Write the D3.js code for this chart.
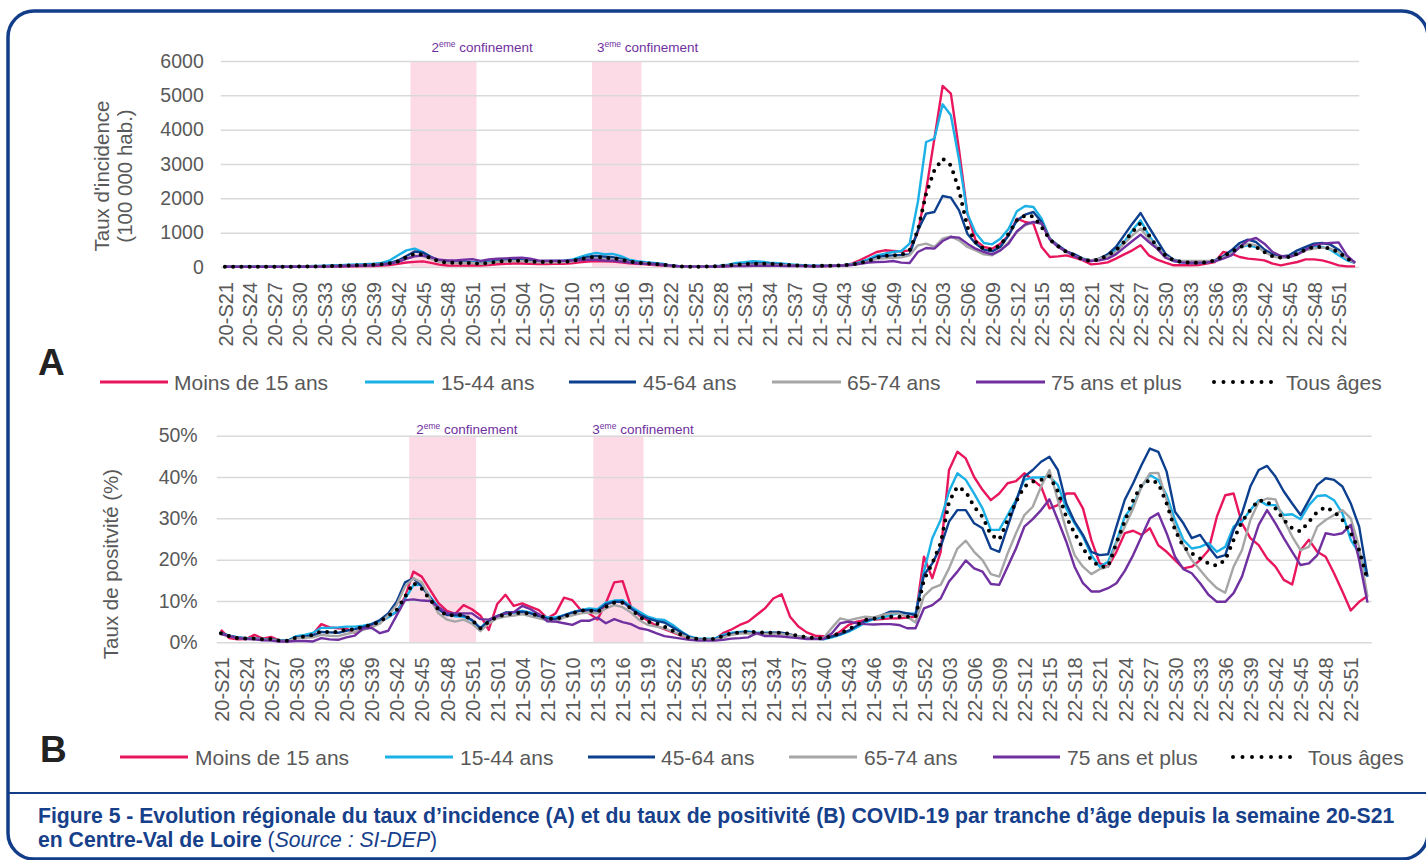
<!DOCTYPE html>
<meta charset="utf-8">
<style>
    body {
        margin: 0;
        background: #fff;
    }

    svg {
        font-family: "Liberation Sans", Arial, sans-serif;
    }

    .grid line {
        stroke: #d9d9d9;
        stroke-width: 1.5;
    }

    .tick text {
        fill: #595959;
    }
</style>
<body>
<script src="https://cdn.jsdelivr.net/npm/d3@7"></script>
<script>
    // weeks: [year, first week, last week]
    const yearWeeks = [["20", 21, 53], ["21", 1, 52], ["22", 1, 52], ["23", 1, 1]];

    const seriesNames = ["Moins de 15 ans", "15-44 ans", "45-64 ans", "65-74 ans", "75 ans et plus", "Tous âges"];
    const seriesColors = ["#e8175d", "#1bb1e7", "#0d3f8f", "#a6a6a6", "#7030a0", "#000000"];

    // A - taux d'incidence (pour 100 000 hab.)
    const incMoins15 = [
        5, 4, 3, 3, 3, 3, 3, 4, 5, 6, 7, 8, 10, 12, 15, 18, 22, 26, 30, 40,
        60, 90, 130, 150, 165, 120, 70, 45, 40, 40, 45, 40, 55, 80, 95, 100, 100, 90, 85, 85, 90,
        95, 110, 140, 160, 175, 165, 160, 140, 110, 90, 75, 60, 45, 28, 15, 7, 6, 6, 8,
        18, 30, 45, 60, 75, 80, 75, 65, 50, 40, 32, 25, 25, 30, 35, 50, 100, 200, 320,
        437, 486, 470, 450, 486, 1020, 2233, 3738, 5273, 5049, 3399, 1554, 777, 583, 534,
        680, 922, 1408, 1311, 1262, 583, 291, 311, 340, 272, 194, 78, 97, 136, 243,
        369, 486, 631, 340, 214, 126, 49, 49, 49, 60, 97, 146, 437, 388, 291,
        243, 223, 194, 97, 49, 97, 146, 223, 223, 194, 126, 49, 19, 19
    ];
    const inc15_44 = [
        14, 11, 9, 8, 8, 9, 10, 12, 15, 18, 22, 28, 36, 45, 55, 65, 75, 85, 95, 117,
        195, 340, 485, 534, 437, 290, 195, 175, 165, 160, 150, 125, 160, 200, 215, 220, 215, 190, 165, 170, 175,
        185, 210, 290, 360, 412, 372, 382, 314, 216, 167, 137, 118, 98, 49, 25, 12, 10, 12, 18,
        40, 69, 118, 137, 167, 157, 127, 108, 90, 70, 55, 40, 35, 40, 45, 60, 85, 140, 230,
        340, 388, 437, 466, 680, 1893, 3641, 3738, 4738, 4418, 3107, 1554, 990, 699, 660,
        825, 1117, 1622, 1777, 1748, 1408, 825, 602, 437, 340, 214, 175, 243, 340, 505,
        728, 1068, 1359, 922, 583, 311, 175, 126, 117, 117, 136, 175, 291, 408, 583,
        631, 583, 486, 340, 272, 291, 388, 534, 602, 583, 505, 340, 194, 117
    ];
    const inc45_64 = [
        10, 8, 7, 6, 6, 6, 7, 8, 10, 12, 15, 18, 25, 30, 38, 45, 52, 60, 68, 85,
        120, 190, 320, 450, 420, 290, 180, 140, 130, 130, 125, 100, 125, 165, 180, 190, 190, 170, 150, 150, 155,
        160, 180, 235, 290, 320, 300, 285, 240, 175, 135, 115, 95, 75, 45, 22, 12, 10, 10, 15,
        30, 55, 70, 85, 100, 100, 95, 80, 60, 50, 40, 30, 30, 38, 40, 50, 70, 120, 180,
        291, 320, 340, 350, 369, 1068, 1554, 1602, 2068, 2020, 1651, 971, 680, 505, 456,
        583, 922, 1359, 1524, 1602, 1311, 825, 631, 456, 369, 243, 194, 243, 369, 583,
        922, 1262, 1573, 1165, 777, 388, 214, 165, 146, 146, 146, 194, 311, 486, 699,
        796, 728, 505, 369, 311, 340, 486, 583, 680, 699, 651, 505, 243, 136
    ];
    const inc65_74 = [
        8, 6, 5, 4, 4, 4, 5, 6, 7, 9, 11, 13, 17, 22, 28, 35, 42, 50, 58, 72,
        100, 150, 250, 330, 320, 230, 150, 120, 115, 120, 118, 95, 118, 150, 165, 170, 170, 150, 135, 135, 140,
        145, 160, 200, 235, 250, 235, 220, 190, 150, 120, 100, 80, 60, 35, 18, 9, 8, 8, 10,
        20, 35, 50, 60, 70, 72, 70, 60, 50, 40, 32, 25, 25, 35, 40, 50, 65, 100, 160,
        243, 250, 270, 280, 340, 631, 680, 583, 825, 893, 777, 583, 486, 369, 340,
        486, 728, 1020, 1214, 1311, 1262, 825, 583, 437, 320, 223, 194, 243, 311, 437,
        680, 922, 1117, 825, 583, 311, 194, 175, 175, 175, 175, 175, 272, 388, 563,
        680, 631, 437, 311, 262, 291, 369, 486, 534, 563, 534, 437, 243, 117
    ];
    const inc75plus = [
        8, 6, 5, 4, 4, 4, 4, 5, 6, 7, 8, 10, 14, 18, 24, 30, 36, 44, 52, 66,
        100, 150, 240, 310, 330, 280, 210, 190, 190, 210, 230, 180, 220, 240, 250, 260, 270, 240, 190, 180, 180,
        180, 190, 200, 210, 210, 190, 180, 160, 130, 110, 90, 80, 60, 40, 25, 15, 12, 10, 10,
        14, 20, 25, 30, 35, 38, 38, 35, 30, 28, 25, 22, 22, 28, 35, 45, 60, 90, 130,
        146, 150, 175, 126, 117, 437, 553, 534, 757, 874, 854, 680, 534, 437, 369,
        486, 680, 1039, 1243, 1311, 1262, 796, 583, 456, 311, 214, 175, 194, 243, 369,
        563, 757, 942, 728, 534, 272, 175, 136, 126, 126, 136, 165, 243, 340, 583,
        777, 845, 680, 437, 320, 291, 369, 505, 631, 680, 699, 718, 340, 117
    ];
    const incTous = [
        10, 8, 7, 6, 6, 6, 7, 8, 10, 12, 15, 18, 24, 30, 38, 45, 52, 58, 65, 80,
        110, 165, 285, 390, 360, 250, 160, 125, 118, 120, 115, 95, 120, 160, 175, 185, 185, 165, 145, 150, 150,
        150, 170, 225, 270, 294, 274, 255, 216, 160, 127, 108, 88, 69, 40, 20, 10, 10, 10, 15,
        30, 55, 70, 80, 98, 98, 95, 78, 59, 49, 39, 29, 29, 39, 39, 49, 69, 118, 176,
        272, 320, 340, 350, 486, 1068, 2136, 2816, 3156, 2962, 2233, 1165, 728, 524, 505,
        631, 971, 1359, 1505, 1476, 1165, 796, 602, 437, 340, 214, 175, 223, 340, 486,
        728, 1020, 1282, 922, 583, 340, 194, 146, 126, 126, 136, 194, 311, 437, 583,
        631, 583, 437, 311, 272, 291, 388, 505, 583, 583, 534, 437, 243, 136
    ];

    // B - taux de positivité (%)
    const posMoins15 = [
        3.0, 1.0, 0.7, 0.8, 1.8, 0.9, 1.3, 0.4, 0.3, 1.0, 1.5, 2.0, 4.4, 3.6, 3.4, 3.3, 2.3, 3.5, 4.0, 4.8,
        6.2, 7.3, 11.0, 17.1, 15.9, 12.7, 9.5, 7.6, 6.9, 9.0, 8.0, 6.5, 3.0, 9.2, 11.5, 8.8, 9.4, 8.6, 7.8, 5.8, 7.0,
        10.8, 10.2, 7.8, 7.0, 5.5, 9.5, 14.5, 14.8, 8.6, 6.5, 5.3, 4.0, 3.2, 2.4, 1.6, 1.0, 0.8, 0.7, 0.7,
        2.2, 3.1, 4.2, 5.0, 6.6, 8.2, 10.6, 11.6, 6.2, 3.8, 2.4, 1.6, 1.5, 1.4, 2.6, 4.2, 5.0, 5.4, 5.5, 5.6, 5.8, 5.8, 6.0, 6.2,
        20.7, 15.5, 21.9, 41.7, 46.1, 44.5, 40.0, 36.9, 34.4, 36.0, 38.5, 39.0, 40.9, 39.3, 37.7,
        32.4, 33.2, 36.0, 36.0, 32.4, 24.8, 19.1, 18.3, 21.9, 26.4,
        27.0, 26.0, 27.6, 23.5, 21.9, 19.9, 17.9, 18.3, 19.9, 22.3, 30.4, 35.6, 36.0, 28.8, 25.2,
        23.5, 20.3, 18.3, 15.1, 14.0, 22.3, 24.8, 21.9, 20.7, 16.7, 12.3, 7.7, 9.8, 11.2
    ];
    const pos15_44 = [
        2.2, 1.6, 1.2, 1.0, 0.9, 0.8, 0.7, 0.5, 0.4, 1.5, 1.8, 2.3, 3.5, 3.5, 3.6, 3.8, 3.8, 4.0, 4.4, 5.0,
        6.0, 7.5, 10.5, 13.8, 14.0, 11.0, 8.5, 6.8, 6.3, 6.2, 5.3, 3.5, 5.3, 6.4, 6.9, 7.2, 7.6, 7.2, 6.6, 6.0, 6.0,
        6.6, 7.3, 7.8, 8.2, 8.0, 9.6, 10.1, 10.2, 8.6, 7.4, 6.2, 5.6, 5.4, 4.2, 2.6, 1.4, 0.9, 0.9, 0.9,
        1.8, 2.3, 2.5, 2.6, 2.3, 2.3, 2.3, 2.2, 1.8, 1.4, 1.0, 0.9, 0.7, 1.2, 1.8, 2.6, 3.6, 4.8, 5.6, 6.0, 6.6, 7.0, 7.0, 6.9,
        17.1, 25.2, 29.6, 36.5, 40.9, 39.3, 36.0, 32.4, 27.2, 27.2, 30.8, 34.4, 39.3, 39.9, 39.9,
        40.1, 38.1, 32.4, 28.8, 25.6, 21.1, 18.3, 19.5, 24.4, 30.4,
        33.2, 37.7, 40.5, 39.3, 35.6, 29.6, 24.8, 22.7, 23.1, 24.0, 21.9, 23.1, 28.0, 29.2, 32.0,
        34.4, 33.2, 33.2, 30.8, 31.0, 29.8, 33.2, 35.4, 35.6, 34.4, 31.2, 24.8, 21.5, 15.9
    ];
    const pos45_64 = [
        2.2, 1.6, 1.2, 1.0, 0.9, 0.7, 0.7, 0.4, 0.4, 1.2, 1.4, 1.6, 2.5, 2.4, 2.3, 2.8, 3.2, 3.7, 4.4, 5.4,
        7.0, 9.8, 14.5, 15.5, 13.5, 10.8, 8.0, 6.6, 6.6, 6.5, 5.4, 3.3, 5.2, 6.3, 7.2, 7.3, 7.4, 7.0, 6.3, 5.7, 5.6,
        6.5, 7.2, 7.7, 7.8, 7.6, 9.2, 9.8, 9.8, 8.2, 6.8, 5.8, 5.2, 4.8, 3.6, 2.4, 1.2, 0.8, 0.7, 0.7,
        1.4, 2.0, 2.3, 2.4, 2.2, 2.2, 2.3, 2.3, 1.9, 1.4, 1.1, 0.9, 0.9, 1.4, 2.0, 2.8, 4.0, 5.2, 5.8, 6.6, 7.4, 7.4, 7.0, 6.6,
        16.3, 19.1, 23.1, 29.2, 32.0, 32.0, 28.8, 27.6, 22.7, 21.9, 28.0, 34.0, 40.1, 41.7, 43.7,
        44.9, 41.7, 33.6, 29.2, 26.0, 21.9, 21.1, 21.3, 28.0, 34.5,
        38.5, 42.9, 46.9, 46.1, 41.3, 31.6, 28.8, 25.2, 26.0, 23.1, 20.5, 21.1, 27.2, 31.2, 37.7,
        41.7, 42.7, 40.1, 36.5, 33.6, 30.8, 34.4, 38.1, 39.7, 39.3, 37.7, 33.6, 28.0, 15.9
    ];
    const pos65_74 = [
        2.0, 1.5, 1.0, 0.9, 0.8, 0.6, 0.6, 0.3, 0.3, 1.0, 1.1, 1.2, 1.8, 1.6, 1.5, 2.0, 2.5, 3.0, 3.6, 4.5,
        6.5, 9.0, 13.5, 15.5, 14.5, 10.5, 7.0, 5.5, 5.0, 5.5, 4.5, 2.7, 4.5, 5.8, 6.2, 6.5, 6.8, 6.3, 5.8, 5.3, 5.0,
        6.0, 6.5, 7.0, 7.2, 7.0, 8.2, 9.0, 8.5, 7.2, 5.4, 4.2, 3.8, 3.4, 2.6, 1.8, 1.0, 0.7, 0.6, 0.6,
        1.2, 1.8, 2.1, 2.2, 2.0, 2.0, 2.1, 2.0, 1.8, 1.4, 1.0, 0.9, 1.0, 3.5, 5.8, 5.3, 5.8, 6.2, 6.0, 6.6, 7.0, 7.0, 6.2, 4.8,
        11.2, 13.1, 13.9, 17.9, 22.7, 24.6, 21.9, 19.9, 16.5, 15.9, 21.5, 26.4, 30.8, 32.8, 37.7,
        41.7, 34.4, 27.2, 21.1, 18.3, 16.5, 17.7, 18.3, 24.0, 28.0,
        32.4, 37.7, 40.9, 41.0, 34.4, 28.0, 23.5, 19.9, 17.5, 15.1, 13.1, 12.0, 18.3, 22.3, 29.6,
        34.0, 34.8, 34.6, 29.6, 25.6, 22.3, 23.1, 28.0, 29.6, 30.8, 32.0, 30.0, 23.1, 11.0
    ];
    const pos75plus = [
        2.0, 1.5, 1.0, 0.8, 0.7, 0.5, 0.4, 0.2, 0.2, 0.3, 0.3, 0.2, 1.0, 0.7, 0.6, 1.2, 1.6, 3.3, 3.5, 2.2,
        2.8, 6.5, 10.2, 10.4, 10.1, 10.0, 8.5, 7.1, 7.0, 7.0, 7.0, 5.6, 5.5, 6.3, 7.0, 7.3, 8.8, 8.0, 6.8, 5.1, 5.0,
        4.6, 4.2, 5.2, 5.2, 6.0, 4.6, 5.6, 4.9, 4.4, 3.4, 3.0, 2.2, 1.5, 1.2, 0.9, 0.6, 0.4, 0.4, 0.4,
        0.6, 0.9, 1.0, 1.2, 2.2, 1.5, 1.5, 1.4, 1.2, 1.0, 0.8, 0.8, 0.8, 2.2, 4.6, 5.0, 4.6, 4.4, 4.3, 4.4, 4.4, 4.2, 3.4, 3.4,
        8.2, 9.0, 10.6, 14.7, 17.1, 19.8, 17.9, 17.1, 14.1, 13.9, 18.3, 22.7, 28.0, 29.8, 32.0,
        34.6, 29.6, 24.4, 18.3, 14.3, 12.3, 12.3, 13.1, 14.3, 17.3,
        21.1, 25.6, 30.0, 31.2, 26.4, 20.7, 17.7, 16.7, 14.3, 11.5, 9.8, 9.8, 11.9, 15.9, 22.3,
        28.4, 32.0, 28.8, 25.2, 21.9, 18.7, 19.1, 21.1, 26.4, 26.0, 26.4, 28.4, 19.9, 9.6
    ];
    const posTous = [
        2.2, 1.5, 1.0, 0.9, 0.9, 0.7, 0.8, 0.4, 0.4, 1.2, 1.4, 1.8, 2.7, 2.4, 2.5, 3.1, 3.1, 3.8, 4.2, 5.0,
        6.4, 7.8, 11.0, 14.4, 13.0, 10.3, 7.9, 6.5, 6.6, 6.6, 5.4, 3.4, 5.0, 6.2, 6.7, 7.0, 7.2, 6.9, 6.5, 5.8, 5.6,
        6.2, 7.0, 7.7, 7.7, 7.4, 8.6, 9.6, 9.6, 8.2, 6.2, 5.0, 4.6, 3.8, 2.8, 1.8, 1.0, 0.8, 0.8, 0.8,
        1.5, 2.2, 2.4, 2.6, 2.4, 2.4, 2.3, 2.3, 2.0, 1.5, 1.2, 1.0, 1.0, 1.5, 2.2, 3.1, 4.2, 5.4, 5.7, 6.0, 6.2, 6.2, 6.2, 6.2,
        15.1, 19.1, 24.0, 34.0, 37.7, 36.5, 32.8, 30.4, 26.0, 24.8, 29.6, 34.0, 37.7, 38.9, 39.3,
        40.2, 36.5, 30.4, 26.4, 22.7, 19.9, 18.3, 18.3, 24.0, 29.4,
        34.4, 38.1, 39.3, 38.5, 33.6, 27.2, 23.1, 21.5, 20.3, 19.1, 18.5, 19.9, 24.8, 29.2, 32.0,
        34.4, 34.0, 32.4, 29.6, 27.6, 26.8, 29.2, 31.6, 32.7, 31.6, 29.6, 26.4, 22.3, 15.1
    ];

    // confinements: first and last week covered
    const confinements = [
        {label: "2", from: "20-S44", to: "20-S51"},
        {label: "3", from: "21-S13", to: "21-S18"}
    ];

    const weeks = [];
    yearWeeks.forEach(([yy, first, last]) => {
        for (let w = first; w <= last; w++) weeks.push(yy + "-S" + String(w).padStart(2, "0"));
    });
    const tickWeeks = weeks.filter((d, i) => i % 3 === 0 && i < 136);

    const svg = d3.select("body").append("svg")
        .attr("width", 1426)
        .attr("height", 860);

    // outer frame
    svg.append("rect")
        .attr("x", 8).attr("y", 11)
        .attr("width", 1420).attr("height", 848)
        .attr("rx", 26)
        .style("fill", "none")
        .style("stroke", "#123d88")
        .style("stroke-width", 3.5);

    svg.append("line")
        .attr("x1", 8).attr("x2", 1428)
        .attr("y1", 793).attr("y2", 793)
        .style("stroke", "#123d88")
        .style("stroke-width", 1.8);

    function drawPanel(p) {
        const g = svg.append("g");
        const x = d3.scalePoint().domain(weeks).range([p.left, p.right]).padding(0.5);
        const step = x.step();
        const y = d3.scaleLinear().domain([0, p.yMax]).range([p.bottom, p.top]);

        // pink bands
        g.selectAll(".band")
            .data(confinements)
            .enter().append("rect")
            .attr("class", "band")
            .attr("x", d => x(d.from) - step / 2)
            .attr("width", d => x(d.to) - x(d.from) + step)
            .attr("y", p.top)
            .attr("height", p.bottom - p.top)
            .style("fill", "#fcdbe7");

        // band labels
        const lab = g.selectAll(".conf-label")
            .data(confinements)
            .enter().append("text")
            .attr("class", "conf-label")
            .attr("x", (d, i) => x(d.from) - step / 2 + p.labelDx[i])
            .attr("y", p.labelY)
            .style("fill", "#7030a0")
            .style("font-size", "13.5px");
        lab.append("tspan").text(d => d.label);
        lab.append("tspan").attr("dy", -5).style("font-size", "8.5px").text("eme");
        lab.append("tspan").attr("dy", 5).text(" confinement");

        // y axis + grid
        g.append("g")
            .attr("class", "grid")
            .attr("transform", "translate(" + p.left + ",0)")
            .call(d3.axisLeft(y)
                .tickValues(d3.range(0, p.yMax + p.yStep / 2, p.yStep))
                .tickSize(-(p.right - p.left))
                .tickPadding(p.tickPad)
                .tickFormat(p.fmt))
            .call(a => a.select(".domain").remove())
            .selectAll("text")
            .style("font-size", "19.5px")
            .style("font-family", "Liberation Sans, Arial, sans-serif");

        // x axis labels
        g.append("g")
            .attr("transform", "translate(0," + p.bottom + ")")
            .call(d3.axisBottom(x).tickValues(tickWeeks).tickSize(0))
            .call(a => a.select(".domain").remove())
            .selectAll("text")
            .attr("transform", "rotate(-90)")
            .attr("x", -p.labelGap)
            .attr("y", 0)
            .attr("dy", "0.36em")
            .style("text-anchor", "end")
            .style("font-size", "20px")
            .style("font-family", "Liberation Sans, Arial, sans-serif");

        // y title
        const yt = g.append("text")
            .attr("transform", "rotate(-90)")
            .style("text-anchor", "middle")
            .style("fill", "#595959")
            .style("font-size", "20.5px");
        p.yTitle.forEach((t, i) => {
            yt.append("tspan")
                .attr("x", -p.yTitleCy)
                .attr("y", p.yTitleX[i])
                .text(t);
        });

        // lines
        const line = d3.line()
            .x((d, i) => x(weeks[i]))
            .y(d => y(d));

        g.selectAll(".serie")
            .data(p.series)
            .enter().append("path")
            .attr("class", "serie")
            .attr("d", line)
            .style("fill", "none")
            .style("stroke", (d, i) => seriesColors[i])
            .style("stroke-width", (d, i) => i === 5 ? 4 : 2.4)
            .style("stroke-linecap", (d, i) => i === 5 ? "round" : "butt")
            .style("stroke-linejoin", "round")
            .style("stroke-dasharray", (d, i) => i === 5 ? "0 " + step.toFixed(2) : null);

        // panel letter
        g.append("text")
            .attr("x", p.letterX)
            .attr("y", p.letterY)
            .style("font-size", "37px")
            .style("font-weight", "bold")
            .style("fill", "#222")
            .text(p.letter);

        // legend
        const leg = g.selectAll(".legend")
            .data(seriesNames)
            .enter().append("g")
            .attr("class", "legend");
        leg.append("line")
            .attr("x1", (d, i) => p.legend[i][0])
            .attr("x2", (d, i) => p.legend[i][1])
            .attr("y1", p.legendY)
            .attr("y2", p.legendY)
            .style("stroke", (d, i) => seriesColors[i])
            .style("stroke-width", (d, i) => i === 5 ? 4 : 3)
            .style("stroke-linecap", (d, i) => i === 5 ? "round" : "butt")
            .style("stroke-dasharray", (d, i) => i === 5 ? "0 9.5" : null);
        leg.append("text")
            .attr("x", (d, i) => p.legend[i][2])
            .attr("y", p.legendY)
            .attr("dy", "0.36em")
            .style("font-size", "21px")
            .style("fill", "#595959")
            .text(d => d);
    }

    drawPanel({
        top: 61, bottom: 267, left: 220.75, right: 1359.25,
        yMax: 6000, yStep: 1000, fmt: d3.format("d"), tickPad: 17,
        series: [incMoins15, inc15_44, inc45_64, inc65_74, inc75plus, incTous],
        labelY: 52, labelDx: [21, 5],
        labelGap: 15,
        yTitle: ["Taux d'incidence", "(100 000 hab.)"], yTitleX: [109, 132], yTitleCy: 176,
        letter: "A", letterX: 38, letterY: 375,
        legendY: 382,
        legend: [[100, 168, 174], [365, 434, 441], [569, 636, 643], [772, 841, 847], [976, 1045, 1051], [1214, 1277, 1286]]
    });

    drawPanel({
        top: 435.7, bottom: 642.3, left: 216.7, right: 1371.7,
        yMax: 50, yStep: 10, fmt: d => d + "%", tickPad: 19,
        series: [posMoins15, pos15_44, pos45_64, pos65_74, pos75plus, posTous],
        labelY: 434, labelDx: [7, -1],
        labelGap: 15,
        yTitle: ["Taux de positvité (%)"], yTitleX: [118], yTitleCy: 564,
        letter: "B", letterX: 40, letterY: 762,
        legendY: 757,
        legend: [[120, 188, 195], [385, 453, 460], [588, 655, 661], [789, 857, 864], [993, 1060, 1067], [1233, 1295, 1308]]
    });

    // caption
    const cap = svg.append("text")
        .style("fill", "#17408b")
        .style("font-size", "21.2px");
    cap.append("tspan")
        .attr("x", 38).attr("y", 823)
        .style("font-weight", "bold")
        .text("Figure 5 - Evolution régionale du taux d’incidence (A) et du taux de positivité (B) COVID-19 par tranche d’âge depuis la semaine 20-S21");
    cap.append("tspan")
        .attr("x", 38).attr("y", 847)
        .style("font-weight", "bold")
        .text("en Centre-Val de Loire ");
    cap.append("tspan").text("(");
    cap.append("tspan").style("font-style", "italic").text("Source : SI-DEP");
    cap.append("tspan").text(")");
</script>
</body>
</html>
